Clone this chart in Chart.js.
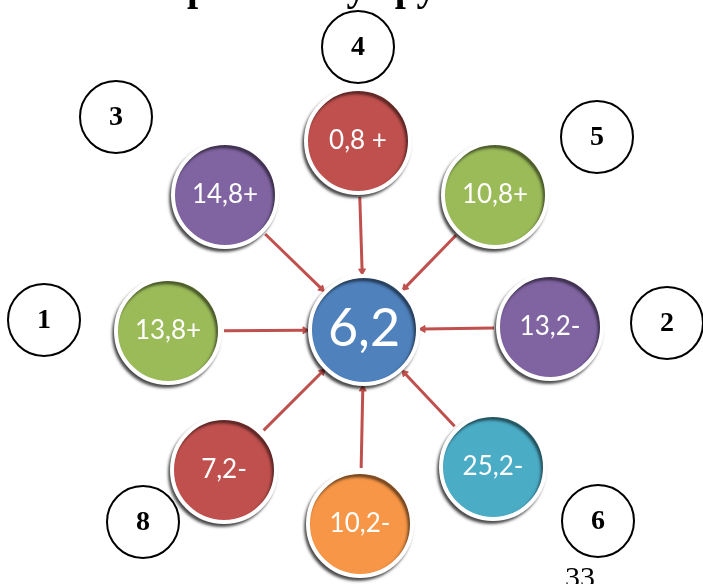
<!DOCTYPE html>
<html>
<head>
<meta charset="utf-8">
<script src="https://cdn.jsdelivr.net/npm/chart.js@4.4.1/dist/chart.umd.min.js"></script>
<style>
    html, body { margin: 0; padding: 0; background: #fff; }
    #wrap { width: 703px; height: 584px; }
</style>
</head>
<body>
<div id="wrap"><canvas id="myChart" width="703" height="584"></canvas></div>
<script>
// nodes around the centre
const nodeLabels = ['13,8+', '13,2-', '14,8+', '0,8 +', '10,8+', '25,2-', '10,2-', '7,2-'];
const nodeX = [168, 550, 225, 358, 495, 493, 360, 224];
const nodeY = [331, 327, 195, 141, 195, 467, 524, 470];
const nodeColors = ['#9bbb59', '#8064a2', '#8064a2', '#c0504d', '#9bbb59', '#4bacc6', '#f79646', '#c0504d'];

const centerLabel = '6,2';
const centerX = 364;
const centerY = 330;

// numbered group circles
const groupLabels = ['1', '2', '3', '4', '5', '6', '8'];
const groupX = [44, 667, 116, 358, 597, 598, 143];
const groupY = [320, 323, 117, 47, 137, 521, 522];

const titleText = 'Обзор связей у групп';
const pageNumber = '33';

const lineColor = '#c0504d';

const arrowSets = nodeX.map((x, i) => {
    const dx = centerX - x;
    const dy = centerY - nodeY[i];
    const d = Math.hypot(dx, dy);
    const ux = dx / d, uy = dy / d;
    const rot = Math.atan2(uy, ux) * 180 / Math.PI + 90;
    return {
        type: 'scatter',
        showLine: true,
        data: [
            { x: x + ux * 56, y: nodeY[i] + uy * 56 },
            { x: centerX - ux * 59, y: centerY - uy * 59 }
        ],
        borderColor: lineColor,
        borderWidth: 3,
        pointRadius: [0, 4],
        pointStyle: 'triangle',
        pointRotation: [0, rot],
        pointBackgroundColor: lineColor,
        pointBorderColor: lineColor,
        pointBorderWidth: 1,
        clip: false,
        order: 3
    };
});

const shadowPlugin = {
    id: 'shadow',
    beforeDatasetDraw(chart, args) {
        if (!args.meta._dataset.shadow) return;
        const c = chart.ctx;
        c.save();
        c.shadowColor = 'rgba(0,0,0,0.6)';
        c.shadowBlur = 3;
        c.shadowOffsetX = -2;
        c.shadowOffsetY = 3;
    },
    afterDatasetDraw(chart, args) {
        if (!args.meta._dataset.shadow) return;
        chart.ctx.restore();
    }
};

const textPlugin = {
    id: 'texts',
    afterDatasetsDraw(chart) {
        const c = chart.ctx;
        const xs = chart.scales.x, ys = chart.scales.y;
        c.save();
        c.textAlign = 'center';
        c.textBaseline = 'middle';

        c.fillStyle = '#ffffff';
        c.font = '26px Lato, "Open Sans", sans-serif';
        nodeLabels.forEach((t, i) => {
            c.fillText(t, xs.getPixelForValue(nodeX[i]), ys.getPixelForValue(nodeY[i]));
        });
        c.font = '52px Lato, "Open Sans", sans-serif';
        c.fillText(centerLabel, xs.getPixelForValue(centerX), ys.getPixelForValue(centerY) - 1);

        c.fillStyle = '#000000';
        c.font = 'bold 28px "Liberation Serif", "DejaVu Serif", serif';
        groupLabels.forEach((t, i) => {
            c.fillText(t, xs.getPixelForValue(groupX[i]), ys.getPixelForValue(groupY[i]) + 1);
        });

        c.textBaseline = 'alphabetic';
        c.font = '30px "Liberation Serif", serif';
        c.fillText(pageNumber, 580, 587);

        c.textAlign = 'left';
        c.font = 'bold 40px "Liberation Serif", serif';
        c.fillText(titleText, 100, 0);
        c.restore();
    }
};

const ctx = document.getElementById('myChart').getContext('2d');

const chart = new Chart(ctx, {
    type: 'scatter',
    data: {
        datasets: [
            {
                data: groupX.map((x, i) => ({ x: x, y: groupY[i] })),
                pointRadius: 36,
                pointHoverRadius: 36,
                backgroundColor: '#ffffff',
                borderColor: '#000000',
                borderWidth: 2,
                clip: false,
                order: 4
            },
            ...arrowSets,
            {
                data: nodeX.map((x, i) => ({ x: x, y: nodeY[i] })),
                pointRadius: 52,
                pointHoverRadius: 52,
                backgroundColor: nodeColors,
                borderColor: '#ffffff',
                borderWidth: 4,
                shadow: true,
                clip: false,
                order: 1
            },
            {
                data: [{ x: centerX, y: centerY }],
                pointRadius: 54,
                pointHoverRadius: 54,
                backgroundColor: '#4f81bd',
                borderColor: '#ffffff',
                borderWidth: 4,
                shadow: true,
                clip: false,
                order: 0
            }
        ]
    },
    options: {
        responsive: false,
        animation: false,
        layout: { padding: 0, autoPadding: false },
        scales: {
            x: { type: 'linear', min: 0, max: 703, display: false },
            y: { type: 'linear', min: 0, max: 584, reverse: true, display: false }
        },
        plugins: {
            legend: { display: false },
            tooltip: { enabled: false }
        },
        events: []
    },
    plugins: [shadowPlugin, textPlugin]
});
</script>
</body>
</html>
